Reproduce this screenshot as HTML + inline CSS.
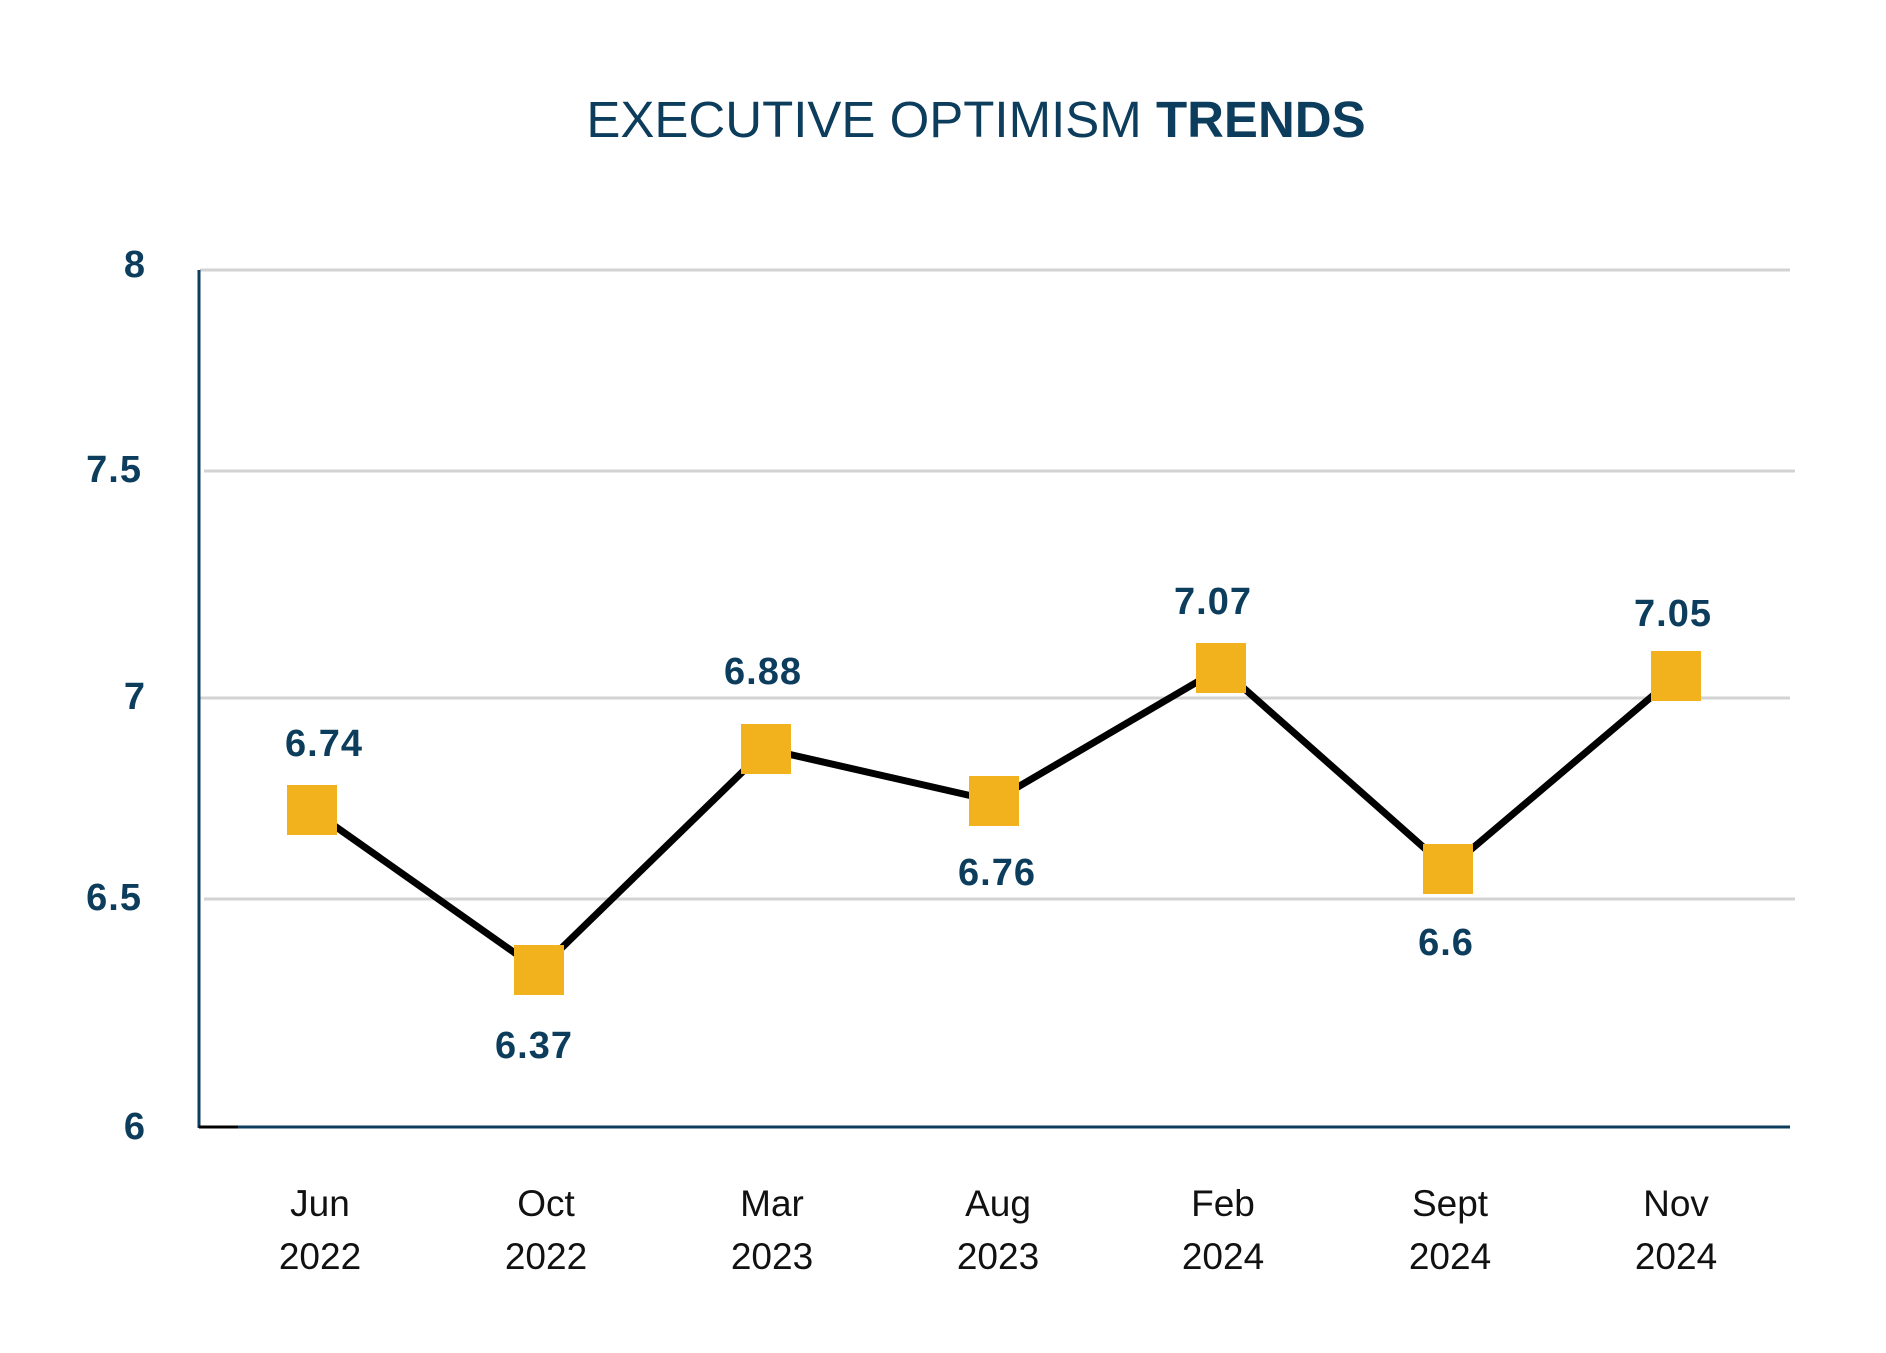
<!DOCTYPE html>
<html><head><style>
html,body{margin:0;padding:0;background:#fff;}
svg{display:block;}
.y{font-family:"Liberation Sans",sans-serif;font-weight:bold;font-size:38px;fill:#0d3d5c;letter-spacing:1px;}
.d{font-family:"Liberation Sans",sans-serif;font-weight:bold;font-size:38px;fill:#0d3d5c;letter-spacing:1px;}
.x{font-family:"Liberation Sans",sans-serif;font-size:37px;fill:#111;}
</style></head><body>
<svg width="1886" height="1353" viewBox="0 0 1886 1353">
<text x="976" y="137" text-anchor="middle" font-family="Liberation Sans,sans-serif" font-size="51" fill="#0d3d5c">EXECUTIVE OPTIMISM <tspan font-weight="bold">TRENDS</tspan></text>
<g stroke="#d3d3d3" stroke-width="3">
<line x1="200" y1="270" x2="1790" y2="270"/>
<line x1="204" y1="471" x2="1795" y2="471"/>
<line x1="200" y1="698" x2="1790" y2="698"/>
<line x1="204" y1="899" x2="1795" y2="899"/>
</g>
<line x1="199" y1="270" x2="199" y2="1128" stroke="#0d3d5c" stroke-width="3"/>
<line x1="199" y1="1127" x2="1790" y2="1127" stroke="#0d3d5c" stroke-width="3"/>
<line x1="199" y1="1127" x2="238" y2="1127" stroke="#000" stroke-width="3"/>
<g class="y" text-anchor="end">
<text x="146" y="277">8</text>
<text x="142" y="482">7.5</text>
<text x="146" y="709">7</text>
<text x="142" y="910">6.5</text>
<text x="146" y="1139">6</text>
</g>
<polyline points="312,810 539,970 766,749 994,801 1221,668 1448,869 1676,676" fill="none" stroke="#000" stroke-width="7" stroke-linejoin="round"/>
<g fill="#f2b21e">
<rect x="287" y="785" width="50" height="50"/>
<rect x="514" y="945" width="50" height="50"/>
<rect x="741" y="724" width="50" height="50"/>
<rect x="969" y="776" width="50" height="50"/>
<rect x="1196" y="643" width="50" height="50"/>
<rect x="1423" y="844" width="50" height="50"/>
<rect x="1651" y="651" width="50" height="50"/>
</g>
<g class="d" text-anchor="middle">
<text x="324" y="756">6.74</text>
<text x="534" y="1058">6.37</text>
<text x="763" y="684">6.88</text>
<text x="997" y="885">6.76</text>
<text x="1213" y="614">7.07</text>
<text x="1446" y="955">6.6</text>
<text x="1673" y="626">7.05</text>
</g>
<g class="x" text-anchor="middle">
<text x="320" y="1216">Jun</text><text x="320" y="1269">2022</text>
<text x="546" y="1216">Oct</text><text x="546" y="1269">2022</text>
<text x="772" y="1216">Mar</text><text x="772" y="1269">2023</text>
<text x="998" y="1216">Aug</text><text x="998" y="1269">2023</text>
<text x="1223" y="1216">Feb</text><text x="1223" y="1269">2024</text>
<text x="1450" y="1216">Sept</text><text x="1450" y="1269">2024</text>
<text x="1676" y="1216">Nov</text><text x="1676" y="1269">2024</text>
</g>
</svg>
</body></html>
